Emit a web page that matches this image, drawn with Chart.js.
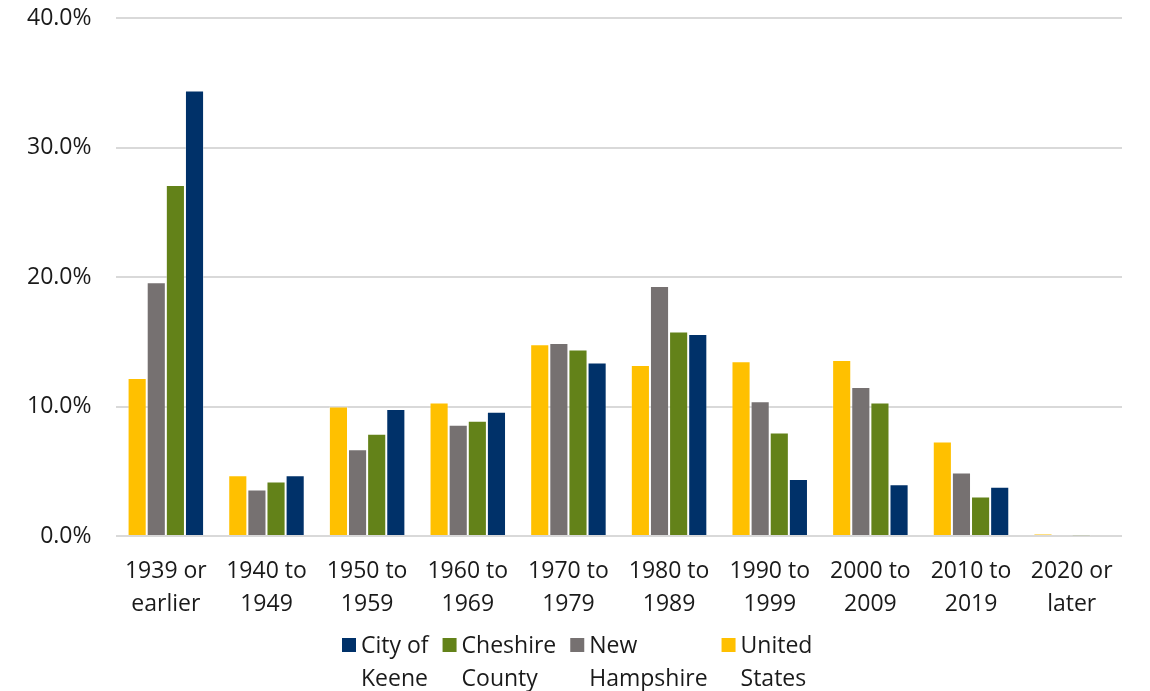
<!DOCTYPE html>
<html>
<head>
<meta charset="utf-8">
<script src="https://cdn.jsdelivr.net/npm/chart.js@4.4.1/dist/chart.umd.min.js"></script>
<style>
  html, body { margin: 0; padding: 0; background: #fff; }
  #wrap { width: 1150px; height: 691px; position: relative; }
</style>
</head>
<body>
<div id="wrap"><canvas id="ageChart"></canvas></div>
<script>
// data (percent of housing units by year built)
const categories = [['1939 or', 'earlier'], ['1940 to', '1949'], ['1950 to', '1959'], ['1960 to', '1969'], ['1970 to', '1979'],
  ['1980 to', '1989'], ['1990 to', '1999'], ['2000 to', '2009'], ['2010 to', '2019'], ['2020 or', 'later']];
const unitedStates   = [12.2, 4.7, 10.0, 10.3, 14.8, 13.2, 13.5, 13.6, 7.3, 0.15];
const newHampshire   = [19.6, 3.6, 6.7, 8.6, 14.9, 19.3, 10.4, 11.5, 4.9, 0.06];
const cheshireCounty = [27.1, 4.2, 7.9, 8.9, 14.4, 15.8, 8.0, 10.3, 3.05, 0.03];
const cityOfKeene    = [34.4, 4.7, 9.8, 9.6, 13.4, 15.6, 4.4, 4.0, 3.8, 0.0];
const yTicks = [0, 10, 20, 30, 40];
// legend names, split the way the original wraps them
const legendLines = {
  'City of Keene': ['City of', 'Keene'],
  'Cheshire County': ['Cheshire', 'County'],
  'New Hampshire': ['New', 'Hampshire'],
  'United States': ['United', 'States']
};

const fontFamily = "'Open Sans', 'Noto Sans', sans-serif";
const fontSize = 23;

// the built-in legend can't size two-line labels in a row, so draw it here
const wrappedLegend = {
  id: 'wrappedLegend',
  afterDraw(chart) {
    const c = chart.ctx;
    const items = chart.data.datasets.map((ds, i) => ({ ds, i })).reverse();
    c.save();
    c.font = fontSize + 'px ' + fontFamily;
    c.textBaseline = 'alphabetic';
    c.textAlign = 'left';
    const widths = items.map(it => Math.max(...legendLines[it.ds.label].map(t => c.measureText(t).width)));
    const box = 14, gap = 5, after = 14;
    let total = 0;
    widths.forEach(w => { total += box + gap + w + after; });
    total -= after;
    let x = Math.round(chart.width / 2 + 2 - total / 2);
    const base = chart.chartArea.bottom;
    items.forEach((it, k) => {
      c.fillStyle = it.ds.backgroundColor;
      c.fillRect(x, base + 102, box, box);
      c.fillStyle = '#1a1a1a';
      legendLines[it.ds.label].forEach((t, j) => {
        c.fillText(t, x + box + gap, base + 117 + j * 33);
      });
      x += box + gap + widths[k] + after;
    });
    c.restore();
  }
};

const ctx = document.getElementById('ageChart');

new Chart(ctx, {
  type: 'bar',
  data: {
    labels: categories,
    datasets: [
      { label: 'United States', data: unitedStates, backgroundColor: '#FFC000' },
      { label: 'New Hampshire', data: newHampshire, backgroundColor: '#767171' },
      { label: 'Cheshire County', data: cheshireCounty, backgroundColor: '#638219' },
      { label: 'City of Keene', data: cityOfKeene, backgroundColor: '#003169' }
    ]
  },
  options: {
    responsive: true,
    maintainAspectRatio: false,
    animation: false,
    devicePixelRatio: 1,
    layout: { padding: { left: 3, right: 28, top: 0, bottom: 51 } },
    datasets: {
      bar: {
        categoryPercentage: 0.76,
        barPercentage: 1.0,
        borderWidth: 1,
        borderColor: 'rgba(255,255,255,0.35)'
      }
    },
    scales: {
      x: {
        grid: { display: false, drawTicks: false },
        border: { display: false },
        ticks: {
          color: '#1a1a1a',
          font: { family: fontFamily, size: fontSize, lineHeight: 33 / fontSize },
          padding: 19,
          maxRotation: 0,
          autoSkip: false
        }
      },
      y: {
        min: 0,
        max: 40,
        afterBuildTicks(axis) { axis.ticks = yTicks.map(v => ({ value: v })); },
        // tick padding is also added above the top label; keep the top gap tight
        afterFit(axis) { axis.paddingTop = 18; },
        grid: { color: '#D9D9D9', lineWidth: 2, drawTicks: false },
        border: { display: false },
        ticks: {
          color: '#1a1a1a',
          font: { family: fontFamily, size: fontSize },
          padding: 24,
          callback: v => v.toFixed(1) + '%'
        }
      }
    },
    plugins: {
      tooltip: { enabled: false },
      legend: { display: false }
    }
  },
  plugins: [wrappedLegend]
});
</script>
</body>
</html>
